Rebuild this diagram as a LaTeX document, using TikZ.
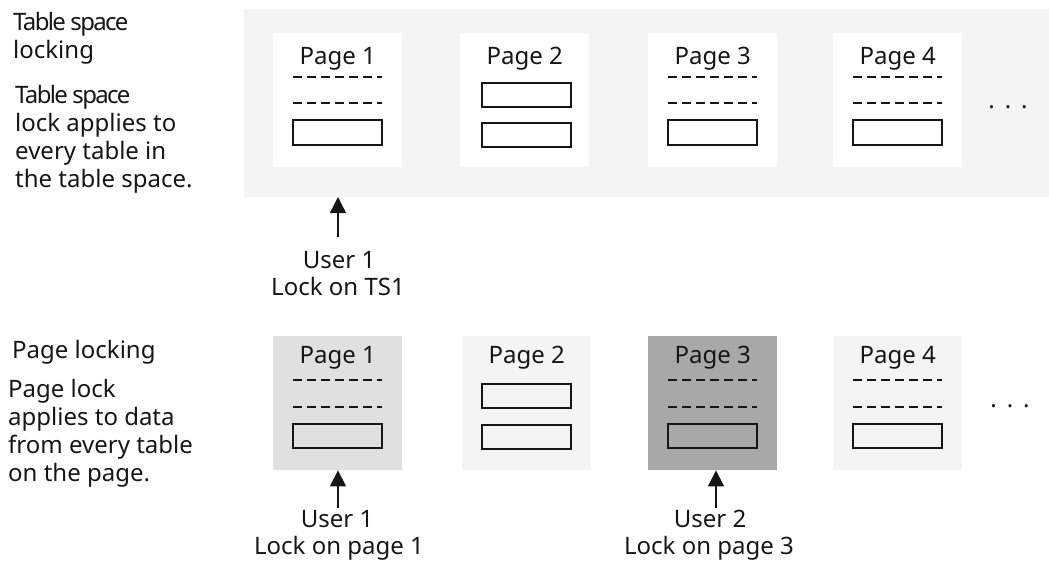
\documentclass[tikz,border=0pt]{standalone}
\usepackage{fontspec}
\setmainfont{Noto Sans}
\newfontfamily\tightfont[LetterSpace=-7]{Noto Sans}
\usetikzlibrary{arrows.meta}
\definecolor{ink}{HTML}{161616}
\definecolor{gten}{HTML}{F4F4F4}
\definecolor{gtwenty}{HTML}{E0E0E0}
\definecolor{gforty}{HTML}{A8A8A8}
\tikzset{
  txt/.style={font=\fontsize{24}{28}\selectfont, text=ink, inner sep=0pt},
  pagebox/.style={rectangle, anchor=north west, minimum width=129pt, minimum height=134pt, inner sep=0pt, draw=none},
  dl/.style={draw=ink, line width=1.2pt, dash pattern=on 9pt off 5pt},
  rec/.style={draw=ink, line width=1.6pt},
  arr/.style={draw=ink, line width=1.3pt, -{Triangle[length=16pt,width=16pt]}},
}
\begin{document}
\begin{tikzpicture}[x=1pt,y=-1pt]
\useasboundingbox (0,0) rectangle (1049,568);
% ---------- left labels
\node[txt, anchor=base west, align=left] (tsl) at (13,58) {{\tightfont Table space}\\locking};
\node[txt, anchor=base west, align=left] (tsd) at (15,187) {{\tightfont Table space}\\lock applies to\\every table in\\the table space.};
\node[txt, anchor=base west, align=left] (pl) at (12,358) {Page locking};
\node[txt, anchor=base west, align=left] (pld) at (8,481) {Page lock\\applies to data\\from every table\\on the page.};
% ---------- top row
\fill[gten] (244,9) rectangle (1049,197);
\foreach \L/\n [count=\i] in {273/1,460/2,648/3,833/4}{
  \node[pagebox, fill=white] (tp\n) at (\L,33) {};
}
\foreach \n in {1,2,3,4}{
  \node[txt, anchor=base] (tp\n t) at ([yshift=-31pt]tp\n.north) {Page \n};
}
\foreach \n in {1,3,4}{
  \draw[dl] ([xshift=20pt,yshift=-44pt]tp\n.north west) -- ([xshift=109pt,yshift=-44pt]tp\n.north west);
  \draw[dl] ([xshift=20pt,yshift=-70pt]tp\n.north west) -- ([xshift=109pt,yshift=-70pt]tp\n.north west);
  \draw[rec] ([xshift=20pt,yshift=-87pt]tp\n.north west) rectangle ([xshift=109pt,yshift=-112pt]tp\n.north west);
}
\draw[rec] ([xshift=22pt,yshift=-50pt]tp2.north west) rectangle ([xshift=111pt,yshift=-74pt]tp2.north west);
\draw[rec] ([xshift=22pt,yshift=-90pt]tp2.north west) rectangle ([xshift=111pt,yshift=-114pt]tp2.north west);
\node[txt, anchor=base] (tdots) at (1008,108) {.\hspace{10pt}.\hspace{10pt}.};
% top user
\node[txt, anchor=base] (tu) at (339,268) {User 1};
\node[txt, anchor=base] (tl) at (338,295) {Lock on TS1};
\coordinate (tut) at (338,237);
\draw[arr] (tut) -- (338,197);
% ---------- bottom row
\node[pagebox, fill=gtwenty] (bp1) at (273,336) {};
\node[pagebox, fill=gten] (bp2) at (462,336) {};
\node[pagebox, fill=gforty] (bp3) at (648,336) {};
\node[pagebox, fill=gten] (bp4) at (833,336) {};
\foreach \n in {1,2,3,4}{
  \node[txt, anchor=base] (bp\n t) at ([yshift=-27pt]bp\n.north) {Page \n};
}
\foreach \n in {1,3,4}{
  \draw[dl] ([xshift=20pt,yshift=-44pt]bp\n.north west) -- ([xshift=109pt,yshift=-44pt]bp\n.north west);
  \draw[dl] ([xshift=20pt,yshift=-71pt]bp\n.north west) -- ([xshift=109pt,yshift=-71pt]bp\n.north west);
  \draw[rec] ([xshift=20pt,yshift=-88pt]bp\n.north west) rectangle ([xshift=109pt,yshift=-112pt]bp\n.north west);
}
\draw[rec] ([xshift=20pt,yshift=-48pt]bp2.north west) rectangle ([xshift=109pt,yshift=-72pt]bp2.north west);
\draw[rec] ([xshift=20pt,yshift=-89pt]bp2.north west) rectangle ([xshift=109pt,yshift=-113pt]bp2.north west);
\node[txt, anchor=base] (bdots) at (1010,407) {.\hspace{10pt}.\hspace{10pt}.};
% bottom users
\node[txt, anchor=base] (bu1) at (337,527) {User 1};
\node[txt, anchor=base] (bl1) at (339,554) {Lock on page 1};
\node[txt, anchor=base] (bu2) at (710,527) {User 2};
\node[txt, anchor=base] (bl2) at (709,554) {Lock on page 3};
\coordinate (bt1) at (338,508);
\coordinate (bt2) at (716,508);
\draw[arr] (bt1) -- (bt1 |- bp1.south);
\draw[arr] (bt2) -- (bt2 |- bp3.south);
\end{tikzpicture}
\end{document}
